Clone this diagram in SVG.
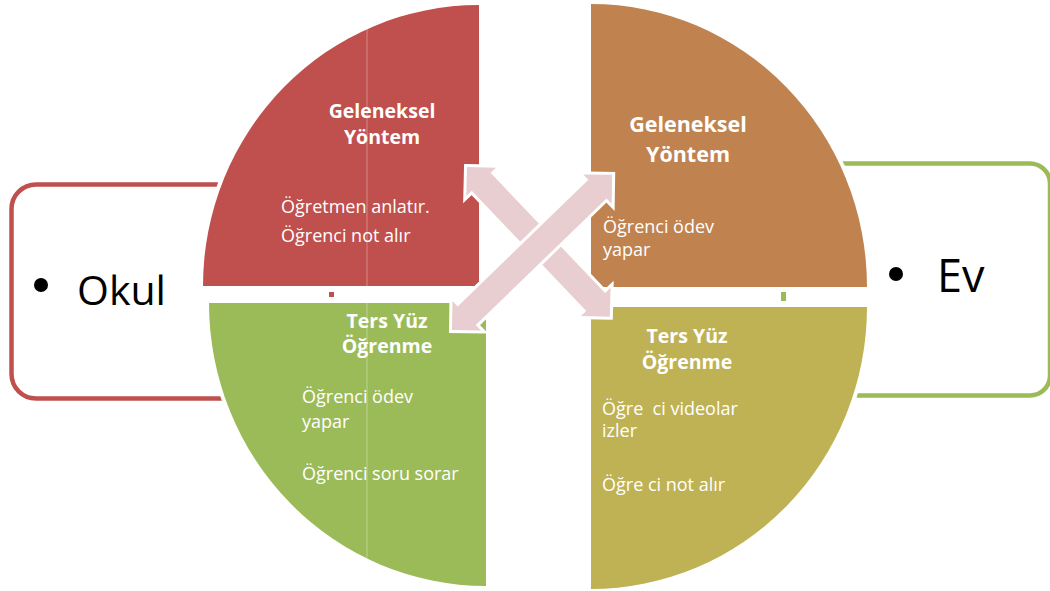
<svg xmlns="http://www.w3.org/2000/svg" width="1050" height="591" viewBox="0 0 1050 591">
  <style>
    .box { fill: none; stroke-width: 4.5; }
    .quad { stroke: #ffffff; stroke-width: 8; paint-order: stroke; }
    .title { font-family: "Open Sans", "Liberation Sans", sans-serif; font-weight: bold; fill: #ffffff; text-anchor: middle; }
    .body { font-family: "Open Sans", "Liberation Sans", sans-serif; font-size: 18px; fill: #ffffff; white-space: pre; }
    .label { font-family: "Open Sans", "Liberation Sans", sans-serif; fill: #000000; }
    .arrow { fill: #E8CED0; stroke: #ffffff; stroke-width: 6; stroke-linejoin: miter; paint-order: stroke; }
    .seam { stroke: #ffffff; stroke-opacity: 0.22; stroke-width: 1.5; }
  </style>

  <rect width="1050" height="591" fill="#ffffff"/>

  <!-- Side panels -->
  <g id="okul">
    <path class="box" stroke="#C0504D" d="M 260,184.5 H 36 A 24.5 24.5 0 0 0 11.5,209 V 374 A 24.5 24.5 0 0 0 36,398.5 H 260"/>
    <circle cx="41" cy="285" r="7" fill="#000000"/>
    <text class="label" x="77" y="305" font-size="41">Okul</text>
  </g>
  <g id="ev">
    <path class="box" stroke="#9BBB59" d="M 830,163.5 H 1030 A 20 20 0 0 1 1050,183.5 V 375.5 A 20 20 0 0 1 1030,395.5 H 830"/>
    <circle cx="896" cy="274" r="7" fill="#000000"/>
    <text class="label" x="937" y="292" font-size="45">Ev</text>
  </g>

  <!-- Quadrants -->
  <g id="geleneksel-okul">
    <path class="quad" fill="#C0504D" d="M 479,286 L 203,286 A 276 281 0 0 1 479,5 Z"/>
    <line class="seam" x1="367" y1="29" x2="367" y2="286"/>
    <text class="title" font-size="19.5" x="382" y="118">Geleneksel</text>
    <text class="title" font-size="19.5" x="382" y="144">Yöntem</text>
    <text class="body" x="281" y="213">Öğretmen anlatır.</text>
    <text class="body" x="281" y="242">Öğrenci not alır</text>
    <rect x="329" y="292" width="5" height="5" fill="#C0504D"/>
  </g>

  <g id="geleneksel-ev">
    <path class="quad" fill="#C08350" d="M 591,287 L 591,4 A 276 283 0 0 1 867,287 Z"/>
    <text class="title" font-size="21.5" x="688" y="132">Geleneksel</text>
    <text class="title" font-size="21.5" x="688" y="162">Yöntem</text>
    <text class="body" x="603" y="233">Öğrenci ödev</text>
    <text class="body" x="603" y="256">yapar</text>
    <rect x="781" y="292" width="5" height="9" fill="#9BBB59"/>
  </g>

  <g id="tersyuz-okul">
    <path class="quad" fill="#9BBB59" d="M 486,303 L 209,303 A 277 283 0 0 0 486,586 Z"/>
    <line class="seam" x1="367" y1="303" x2="367" y2="558"/>
    <text class="title" font-size="19.5" x="387" y="328">Ters Yüz</text>
    <text class="title" font-size="19.5" x="387" y="353">Öğrenme</text>
    <text class="body" x="302" y="403">Öğrenci ödev</text>
    <text class="body" x="302" y="428">yapar</text>
    <text class="body" x="302" y="480">Öğrenci soru sorar</text>
  </g>

  <g id="tersyuz-ev">
    <path class="quad" fill="#BFB254" d="M 591,307 L 867,307 A 276 282 0 0 1 591,589 Z"/>
    <text class="title" font-size="19.5" x="687" y="343">Ters Yüz</text>
    <text class="title" font-size="19.5" x="687" y="369">Öğrenme</text>
    <text class="body" x="602" y="415">Öğre  ci videolar</text>
    <text class="body" x="602" y="437">izler</text>
    <text class="body" x="602" y="491">Öğre ci not alır</text>
  </g>

  <!-- Connectors: two double-headed arrows crossing in the middle -->
  <g id="connectors">
    <polygon class="arrow" transform="translate(467,167) rotate(46.36)"
      points="0,0 20.5,-20.5 20.5,-13 186.5,-13 186.5,-20.5 207,0 186.5,20.5 186.5,13 20.5,13 20.5,20.5"/>
    <polygon class="arrow" transform="translate(452,330) rotate(-44.09)"
      points="0,0 20.5,-20.5 20.5,-13 202.5,-13 202.5,-20.5 223,0 202.5,20.5 202.5,13 20.5,13 20.5,20.5"/>
  </g>
</svg>
